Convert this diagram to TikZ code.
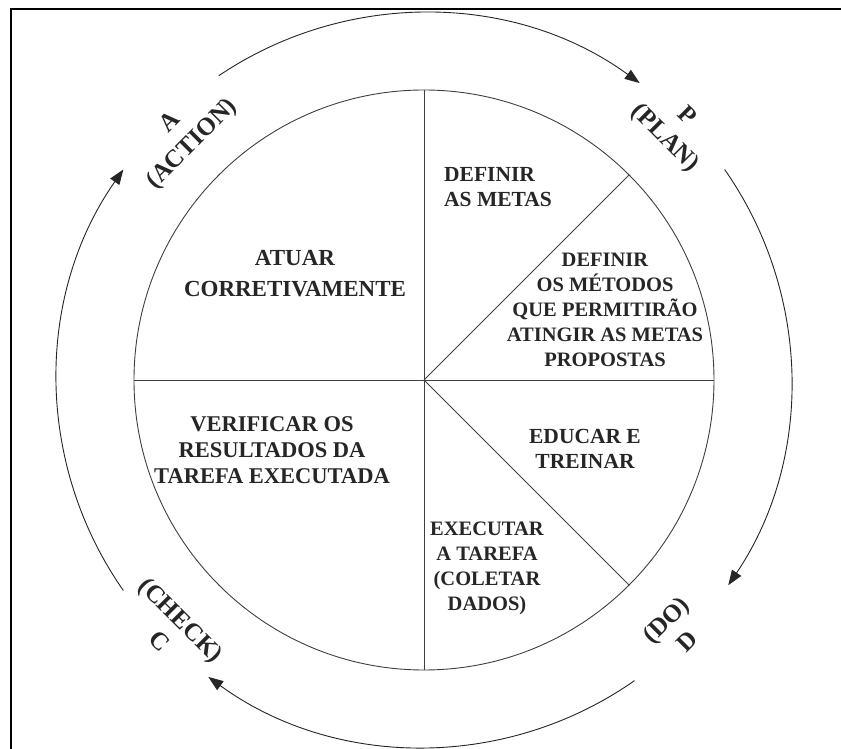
\documentclass[tikz,border=0pt]{standalone}
\usepackage{fontspec}
\setmainfont{Liberation Serif}
\usetikzlibrary{arrows.meta}
\begin{document}
\begin{tikzpicture}[x=1pt,y=1pt,
  lines/.style={draw=black!75, line width=0.9pt},
  cyc/.style={draw=black!85, line width=0.9pt, -{Triangle[length=15pt,width=11pt]}},
  lbl/.style={font=\bfseries\fontsize{23}{29}\selectfont, align=center, inner sep=0pt, text=black!85},
  mlbl/.style={font=\bfseries\fontsize{21.5}{25}\selectfont, align=center, inner sep=0pt, text=black!85},
  slbl/.style={font=\bfseries\fontsize{20.5}{25}\selectfont, align=center, inner sep=0pt, text=black!85},
  phase/.style={font=\bfseries\fontsize{25}{30}\selectfont, align=center, inner sep=0pt, text=black!85}]
\useasboundingbox (-424,-369) rectangle (417,380);
\fill[white] (-424,-369) rectangle (417,380);
% frame (top and left edges visible)
\draw[line width=2pt] (-413,-369) -- (-413,371) -- (417,371);
\coordinate (O) at (0,0);
% inner circle and divisions
\draw[lines] (O) circle (290);
\draw[lines] (0,290) -- (0,-290);
\draw[lines] (-290,0) -- (290,0);
\draw[lines] (O) -- (45:290);
\draw[lines] (O) -- (-45:290);
% outer cycle arcs
\draw[cyc] (124:367) arc[start angle=124, end angle=54, radius=367];
\draw[cyc] (35:367) arc[start angle=35, end angle=-34, radius=367];
\draw[cyc] (-55:367) arc[start angle=-55, end angle=-126, radius=367];
\draw[cyc] (215:367) arc[start angle=215, end angle=145, radius=367];
% sector texts
\node[lbl, font=\bfseries\fontsize{23}{31}\selectfont] (atuar) at (-129,106) {ATUAR\\CORRETIVAMENTE};
\node[mlbl, anchor=west, align=left] (metas) at (20,193) {DEFINIR\\AS METAS};
\node[slbl] (metodos) at (181,70) {DEFINIR\\OS MÉTODOS\\QUE PERMITIRÃO\\ATINGIR AS METAS\\PROPOSTAS};
\node[mlbl] (educar) at (161,-69) {EDUCAR E\\TREINAR};
\node[slbl] (executar) at (63,-188) {EXECUTAR\\A TAREFA\\(COLETAR\\DADOS)};
\node[lbl, font=\bfseries\fontsize{22.5}{26}\selectfont] (verificar) at (-152,-70) {VERIFICAR OS\\RESULTADOS DA\\TAREFA EXECUTADA};
% phase labels
\node[phase, rotate=45] (act) at (-242,246) {A\\(ACTION)};
\node[phase, rotate=-45] (plan) at (251,252) {P\\(PLAN)};
\node[phase, rotate=-45] (check) at (-253,-250) {(CHECK)\\C};
\node[phase, rotate=45] (do) at (252,-250) {(DO)\\D};
\end{tikzpicture}
\end{document}
